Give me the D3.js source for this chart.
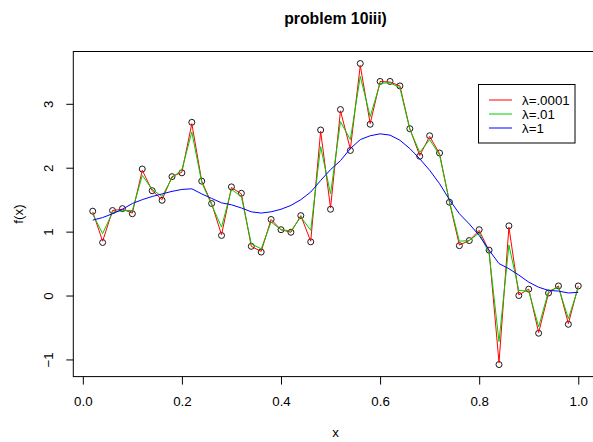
<!DOCTYPE html>
<html>
<head>
<meta charset="utf-8">
<script src="https://cdn.jsdelivr.net/npm/d3@7"></script>
<style>
  body { margin: 0; background: #fff; }
  svg { display: block; font-family: "Liberation Sans", Arial, sans-serif; }
</style>
</head>
<body>
<div id="chart"></div>
<script>
// x grid: 0.02, 0.04, ..., 1.00
const xs = [0.02,0.04,0.06,0.08,0.10,0.12,0.14,0.16,0.18,0.20,
            0.22,0.24,0.26,0.28,0.30,0.32,0.34,0.36,0.38,0.40,
            0.42,0.44,0.46,0.48,0.50,0.52,0.54,0.56,0.58,0.60,
            0.62,0.64,0.66,0.68,0.70,0.72,0.74,0.76,0.78,0.80,
            0.82,0.84,0.86,0.88,0.90,0.92,0.94,0.96,0.98,1.00]

// observed points
const yObs = [1.32,0.83,1.33,1.36,1.28,1.98,1.64,1.49,1.86,1.92,
              2.71,1.79,1.44,0.94,1.70,1.60,0.77,0.68,1.19,1.03,
              0.99,1.25,0.84,2.59,1.35,2.91,2.27,3.63,2.68,3.35,
              3.35,3.28,2.61,2.18,2.50,2.23,1.46,0.78,0.86,1.03,
              0.71,-1.08,1.09,0.00,0.10,-0.59,0.04,0.15,-0.45,0.15]

// fit lambda = .0001
const fitSmall = [1.31,0.85,1.33,1.35,1.29,1.96,1.64,1.50,1.86,1.93,
                  2.69,1.79,1.44,0.95,1.69,1.59,0.77,0.69,1.19,1.03,
                  0.99,1.25,0.85,2.57,1.37,2.89,2.29,3.60,2.69,3.35,
                  3.34,3.28,2.61,2.19,2.49,2.22,1.46,0.79,0.86,1.02,
                  0.70,-1.05,1.07,0.01,0.10,-0.58,0.04,0.15,-0.44,0.15]

// fit lambda = .01
const fitMid = [1.27,0.97,1.30,1.33,1.33,1.88,1.66,1.55,1.84,1.97,
                2.56,1.77,1.42,1.07,1.66,1.55,0.81,0.73,1.15,1.03,
                1.01,1.23,1.02,2.33,1.59,2.72,2.44,3.43,2.80,3.32,
                3.33,3.25,2.60,2.24,2.44,2.20,1.47,0.85,0.86,0.98,
                0.66,-0.72,0.79,0.08,0.07,-0.49,0.07,0.13,-0.36,0.12]

// fit lambda = 1
const fitBig = [1.18,1.22,1.28,1.35,1.44,1.50,1.55,1.59,1.63,1.66,
                1.67,1.59,1.52,1.45,1.42,1.37,1.31,1.29,1.31,1.35,
                1.41,1.50,1.62,1.80,1.97,2.11,2.30,2.44,2.50,2.53,
                2.51,2.43,2.30,2.14,1.96,1.75,1.50,1.28,1.12,0.94,
                0.71,0.50,0.42,0.32,0.21,0.13,0.08,0.07,0.04,0.05]

const xTicks = [0, 0.2, 0.4, 0.6, 0.8, 1.0]
const yTicks = [-1, 0, 1, 2, 3]
const legendLabels = ["λ=.0001", "λ=.01", "λ=1"]
const legendColors = ["#ff0000", "#00cd00", "#0000ff"]

const W = 593, H = 442
const plot = {left: 73.3, right: 597.7, top: 51.5, bottom: 376.6}

const svg = d3.select("#chart").append("svg")
  .attr("width", W)
  .attr("height", H)

// R style 4% padding around data range
const xExt = d3.extent(xs), yExt = d3.extent(yObs)
const xPad = (xExt[1] - xExt[0]) * 0.04, yPad = (yExt[1] - yExt[0]) * 0.04

const x = d3.scaleLinear()
  .domain([xExt[0] - xPad, xExt[1] + xPad])
  .range([plot.left, plot.right])
const y = d3.scaleLinear()
  .domain([yExt[0] - yPad, yExt[1] + yPad])
  .range([plot.bottom, plot.top])

// points
const obs = xs.map((d, i) => ({x: d, y: yObs[i]}))
svg.append("g")
  .selectAll("circle")
  .data(obs)
  .enter()
  .append("circle")
  .attr("cx", d => x(d.x))
  .attr("cy", d => y(d.y))
  .attr("r", 3)
  .attr("fill", "none")
  .attr("stroke", "#000")
  .attr("stroke-width", 0.9)

// fitted lines
const series = [fitSmall, fitMid, fitBig]
const line = d3.line()
  .x((d, i) => x(xs[i]))
  .y(d => y(d))

series.forEach(function(s, k) {
  svg.append("path")
    .datum(s)
    .attr("d", line)
    .attr("fill", "none")
    .attr("stroke", legendColors[k])
    .attr("stroke-width", 1)
})

// box
svg.append("rect")
  .attr("x", plot.left)
  .attr("y", plot.top)
  .attr("width", plot.right - plot.left)
  .attr("height", plot.bottom - plot.top)
  .attr("fill", "none")
  .attr("stroke", "#000")
  .attr("stroke-width", 1)

// axes
const xAxis = svg.append("g")
  .attr("transform", "translate(0," + plot.bottom + ")")
  .call(d3.axisBottom(x).tickValues(xTicks).tickFormat(d3.format(".1f")).tickSize(8).tickSizeOuter(0))
xAxis.select(".domain").remove()
xAxis.selectAll("text")
  .attr("font-size", 13.3)
  .attr("font-family", "Liberation Sans, Arial, sans-serif")
  .attr("fill", "#000")
  .attr("dy", "0.72em")
  .attr("y", 20)

const yAxis = svg.append("g")
  .attr("transform", "translate(" + plot.left + ",0)")
  .call(d3.axisLeft(y).tickValues(yTicks).tickFormat(d => d < 0 ? "\u2212" + Math.abs(d) : d).tickSize(7).tickSizeOuter(0))
yAxis.select(".domain").remove()
yAxis.selectAll("text")
  .attr("font-size", 13.3)
  .attr("font-family", "Liberation Sans, Arial, sans-serif")
  .attr("fill", "#000")
  .attr("text-anchor", "middle")
  .attr("x", null)
  .attr("dy", null)
  .attr("transform", "translate(-20,0) rotate(-90)")
svg.selectAll(".tick line").attr("stroke", "#000")

// titles
svg.append("text")
  .attr("x", (plot.left + plot.right) / 2)
  .attr("y", 23.5)
  .attr("text-anchor", "middle")
  .attr("font-weight", "bold")
  .attr("font-size", 15.8)
  .text("problem 10iii)")

svg.append("text")
  .attr("x", (plot.left + plot.right) / 2)
  .attr("y", 437)
  .attr("text-anchor", "middle")
  .attr("font-size", 13.3)
  .text("x")

svg.append("text")
  .attr("transform", "translate(22.5," + ((plot.top + plot.bottom) / 2) + ") rotate(-90)")
  .attr("text-anchor", "middle")
  .attr("font-size", 13.3)
  .text("f(x)")

// legend
const legend = svg.append("g")
legend.append("rect")
  .attr("x", 478.5)
  .attr("y", 84.5)
  .attr("width", 96.5)
  .attr("height", 58.5)
  .attr("fill", "#fff")
  .attr("stroke", "#000")
  .attr("stroke-width", 1)

const rowY = d3.scalePoint().domain(legendLabels).range([100, 128])
legendLabels.forEach(function(lab, i) {
  const ly = Math.round(rowY(lab))
  legend.append("line")
    .attr("x1", 489).attr("x2", 512)
    .attr("y1", ly).attr("y2", ly)
    .attr("stroke", legendColors[i])
    .attr("stroke-width", 1)
  legend.append("text")
    .attr("x", 522)
    .attr("y", ly + 4.5)
    .attr("font-size", 13.3)
    .attr("fill", "#000")
    .text(lab)
})
</script>
</body>
</html>
